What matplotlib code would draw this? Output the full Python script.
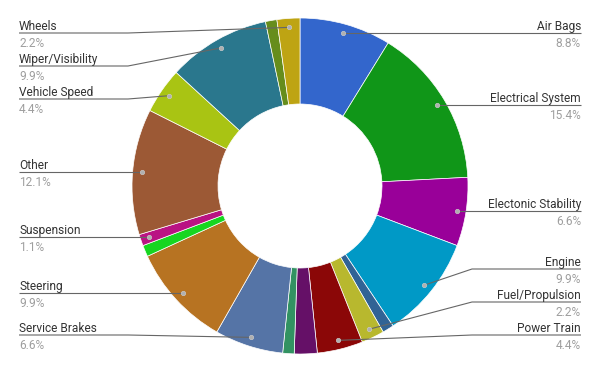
import numpy as np
import matplotlib.pyplot as plt

# slices clockwise from 12 o'clock; '' = slice too small to get a label
labels = ['Air Bags', 'Electrical System', 'Electonic Stability', 'Engine', '',
          'Fuel/Propulsion', 'Power Train', '', '', 'Service Brakes', 'Steering',
          '', 'Suspension', 'Other', 'Vehicle Speed', 'Wiper/Visibility', '', 'Wheels']
counts = [8, 14, 6, 9, 1, 2, 4, 2, 1, 6, 9, 1, 1, 11, 4, 9, 1, 2]
colors = ['#3366cc', '#109618', '#990099', '#0099c6', '#316395',
          '#b8b82e', '#8b0707', '#651067', '#329262', '#5574a6', '#b77322',
          '#16d620', '#b91383', '#9c5935', '#a9c413', '#2a778d', '#668d1c', '#bea413']


def layout(ideal, top, bottom, gap):
    # push label lines apart (y grows upward here)
    order = np.argsort(-np.array(ideal))
    ys = [min(max(ideal[i], bottom), top) for i in order]
    for k in range(1, len(ys)):
        ys[k] = min(ys[k], ys[k - 1] - gap)
    ys[-1] = max(ys[-1], bottom)
    for k in range(len(ys) - 2, -1, -1):
        ys[k] = max(ys[k], ys[k + 1] + gap)
    out = {}
    for i, y in zip(order, ys):
        out[i] = y
    return out


def main():
    plt.rcParams['font.family'] = ['Roboto', 'DejaVu Sans']
    W, H = 600, 371
    cx, cy = 300, 185
    R, r_in = 168, 82

    fig = plt.figure(figsize=(6, 3.71), dpi=100)
    ax = fig.add_axes([0, 0, 1, 1])
    ax.pie(counts, colors=colors, startangle=90, counterclock=False,
           radius=R, center=(cx, cy),
           wedgeprops=dict(width=R - r_in, edgecolor='white', linewidth=0.5))
    ax.set_xlim(0, W)
    ax.set_ylim(0, H)
    ax.set_aspect('equal')
    ax.axis('off')

    total = sum(counts)
    cum = np.cumsum([0] + counts[:-1])
    mids = [(c + v / 2) / total * 2 * np.pi for c, v in zip(cum, counts)]
    rd = 159
    dots = [(cx + rd * np.sin(a), cy + rd * np.cos(a)) for a in mids]

    right = [i for i, l in enumerate(labels) if l and dots[i][0] >= cx]
    left = [i for i, l in enumerate(labels) if l and dots[i][0] < cx]

    for side, idx in (('right', right), ('left', left)):
        ideal = [dots[i][1] for i in idx]
        ys = layout(ideal, H - 33, H - 335, 33)
        for k, i in enumerate(idx):
            ly = ys[k]
            dx, dy = dots[i]
            if side == 'right':
                tx, knee, ha = 581, cx + R + 4, 'right'
            else:
                tx, knee, ha = 19, cx - R - 4, 'left'
            ax.plot([tx, knee, dx], [ly, ly, dy], color='#666666', lw=0.8,
                    solid_capstyle='butt', zorder=3)
            ax.plot(dx, dy, 'o', ms=3.2, color='#b0b0b0', mec='#d0d0d0',
                    mew=0.4, zorder=4)
            ax.text(tx, ly + 3, labels[i], ha=ha, va='baseline',
                    fontsize=8.6, color='#333333')
            pct = f'{counts[i] / total * 100:.1f}%'
            ax.text(tx, ly - 14, pct, ha=ha, va='baseline',
                    fontsize=8.6, color='#9e9e9e')

    fig.savefig('out.png', dpi=100)


if __name__ == '__main__':
    main()
